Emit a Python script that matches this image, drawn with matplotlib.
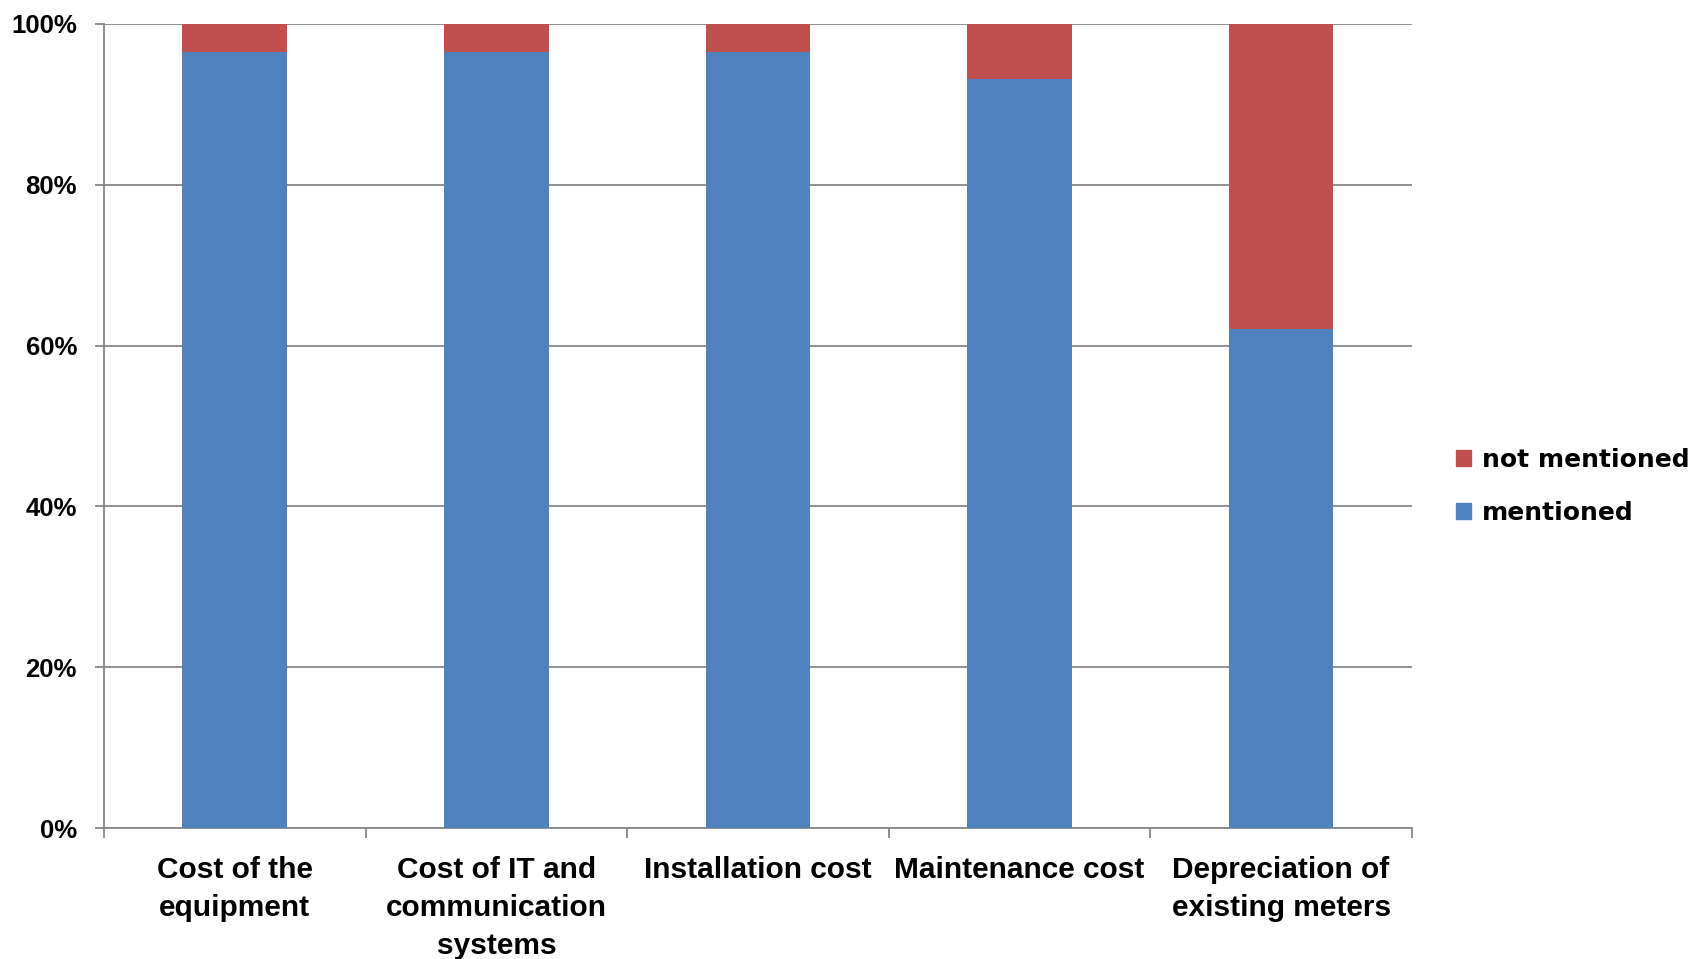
import matplotlib.pyplot as plt
from matplotlib.patches import Patch
from matplotlib.ticker import PercentFormatter
import numpy as np

categories    = ['Cost of the\nequipment', 'Cost of IT and\ncommunication\nsystems',
                 'Installation cost', 'Maintenance cost', 'Depreciation of\nexisting meters']
mentioned     = [96.55, 96.55, 96.55, 93.10, 62.07]
not_mentioned = [3.45, 3.45, 3.45, 6.90, 37.93]

blue  = '#4F81BD'
red   = '#C0504D'
grey  = '#888888'

fig = plt.figure(figsize=(16.96, 9.59), dpi=100)
ax  = fig.add_axes([0.0613, 0.1366, 0.7712, 0.8384])

x = np.arange(len(categories))
ax.bar(x, mentioned, width=0.4, color=blue, zorder=3)
ax.bar(x, not_mentioned, width=0.4, bottom=mentioned, color=red, zorder=3)

ax.set_xlim(-0.5, len(categories) - 0.5)
ax.set_ylim(0, 100)
ax.set_yticks(np.arange(0, 101, 20))
ax.yaxis.set_major_formatter(PercentFormatter(decimals=0))
ax.grid(axis='y', color=grey, linewidth=1.3, zorder=0)

for side in ['top', 'right']:
    ax.spines[side].set_visible(False)
for side in ['left', 'bottom']:
    ax.spines[side].set_color(grey)
    ax.spines[side].set_linewidth(1.3)

# boundary ticks between categories, labels at the centres
ax.set_xticks(np.arange(-0.5, len(categories)), minor=False)
ax.set_xticklabels([])
ax.set_xticks(x, minor=True)
ax.set_xticklabels(categories, minor=True, fontsize=21.5, fontweight='bold',
                   family='Liberation Sans', linespacing=1.47, va='top')
ax.tick_params(axis='x', which='major', length=7.5, color=grey, width=1.3)
ax.tick_params(axis='x', which='minor', length=0, pad=20)
ax.tick_params(axis='y', length=6.5, color=grey, width=1.3, pad=13)
for lab in ax.get_yticklabels():
    lab.set_fontsize(18.5)
    lab.set_fontweight('bold')
    lab.set_family('Liberation Sans')

handles = [Patch(color=red, label='not mentioned'), Patch(color=blue, label='mentioned')]
fig.legend(handles=handles, loc='center left', bbox_to_anchor=(0.845, 0.493),
           frameon=False, handlelength=0.6, handleheight=0.6, handletextpad=0.45,
           labelspacing=1.15,
           prop={'family': 'DejaVu Sans', 'weight': 'bold', 'size': 18})

fig.savefig('out.png', dpi=100)
